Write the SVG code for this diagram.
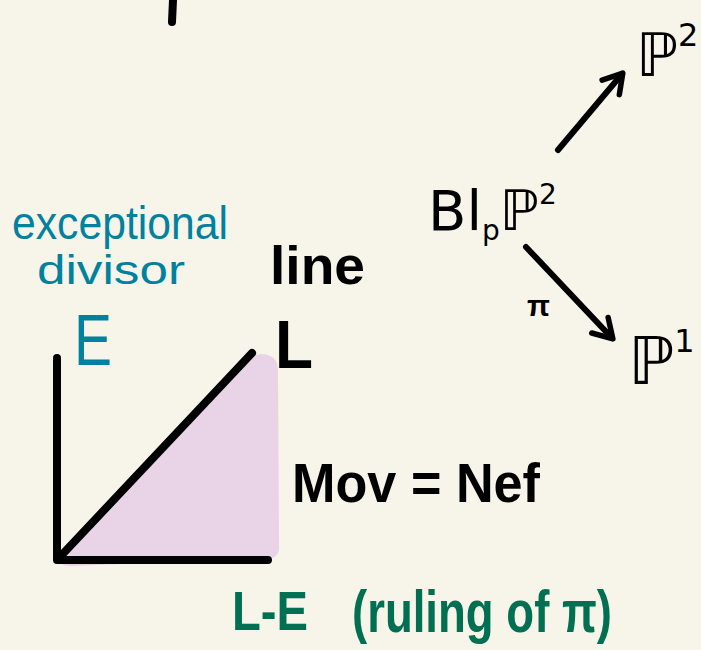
<svg xmlns="http://www.w3.org/2000/svg" width="701" height="650" viewBox="0 0 701 650">
<defs>
<style>
.ink{fill:#000;font-family:"Liberation Sans","DejaVu Sans",sans-serif;font-weight:bold}
.teal{fill:#0081a0;font-family:"Liberation Sans","DejaVu Sans",sans-serif}
.green{fill:#006f52;font-family:"Liberation Sans","DejaVu Sans",sans-serif;font-weight:bold}
.bb{fill:#000;font-family:"DejaVu Sans",sans-serif}
.stroke{fill:none;stroke:#000;stroke-width:8;stroke-linecap:round;stroke-linejoin:round}
.conn{fill:none;stroke:#000;stroke-width:6;stroke-linecap:round}
</style>
<marker id="head" viewBox="0 0 12 12" refX="9" refY="6" markerWidth="5" markerHeight="5" orient="auto" markerUnits="strokeWidth">
<path d="M2,1.5 L9.5,6 L2,10.5" fill="none" stroke="#000" stroke-width="2.2" stroke-linecap="round" stroke-linejoin="round"/>
</marker>
</defs>
<rect width="701" height="650" fill="#f7f5ea"/>
<path class="stroke" d="M173,0 L172,22"/>
<g id="cone">
<path d="M58,560 Q60,566 72,566 L272,558 Q280,556 279,545 L278,370 Q278,355 262,354 L250,356 Z" fill="#e8d3e7"/>
<path class="stroke" d="M57,358 L57,560 L268,560"/>
<path class="stroke" d="M58,559 L252,353"/>
</g>
<g id="exceptional-divisor">
<text class="teal" x="12" y="239" font-size="46" textLength="216" lengthAdjust="spacingAndGlyphs">exceptional</text>
<text class="teal" x="37" y="284" font-size="40" textLength="148" lengthAdjust="spacingAndGlyphs">divisor</text>
</g>
<g id="line-label"><text class="ink" x="270" y="284" font-size="54" textLength="95" lengthAdjust="spacingAndGlyphs">line</text></g>
<g id="E-label"><text class="teal" x="74" y="365" font-size="72" textLength="38" lengthAdjust="spacingAndGlyphs">E</text></g>
<g id="L-label"><text class="ink" x="275" y="368" font-size="68" textLength="38" lengthAdjust="spacingAndGlyphs">L</text></g>
<g id="mov-nef"><text class="ink" x="292" y="502" font-size="56" textLength="248" lengthAdjust="spacingAndGlyphs">Mov = Nef</text></g>
<g id="ruling">
<text class="green" x="232" y="630" font-size="56" textLength="76" lengthAdjust="spacingAndGlyphs">L-E</text>
<text class="green" x="352" y="632" font-size="60" textLength="260" lengthAdjust="spacingAndGlyphs">(ruling of π)</text>
</g>
<g id="blowup"><text class="bb" x="428" y="230" font-size="56">Bl<tspan font-size="28" dy="10">p</tspan><tspan dy="-10">ℙ</tspan><tspan font-size="28" dy="-26">2</tspan></text></g>
<g id="P2"><text class="bb" x="636" y="76" font-size="60">ℙ<tspan font-size="32" dy="-30">2</tspan></text></g>
<g id="P1"><text class="bb" x="628" y="384" font-size="66">ℙ<tspan font-size="32" dy="-32">1</tspan></text></g>
<g id="connectors">
<path class="conn" d="M558,150 L622,74" marker-end="url(#head)"/>
<path class="conn" d="M526,247 L612,338" marker-end="url(#head)"/>
<text class="ink" x="527" y="316" font-size="30">π</text>
</g>
</svg>
